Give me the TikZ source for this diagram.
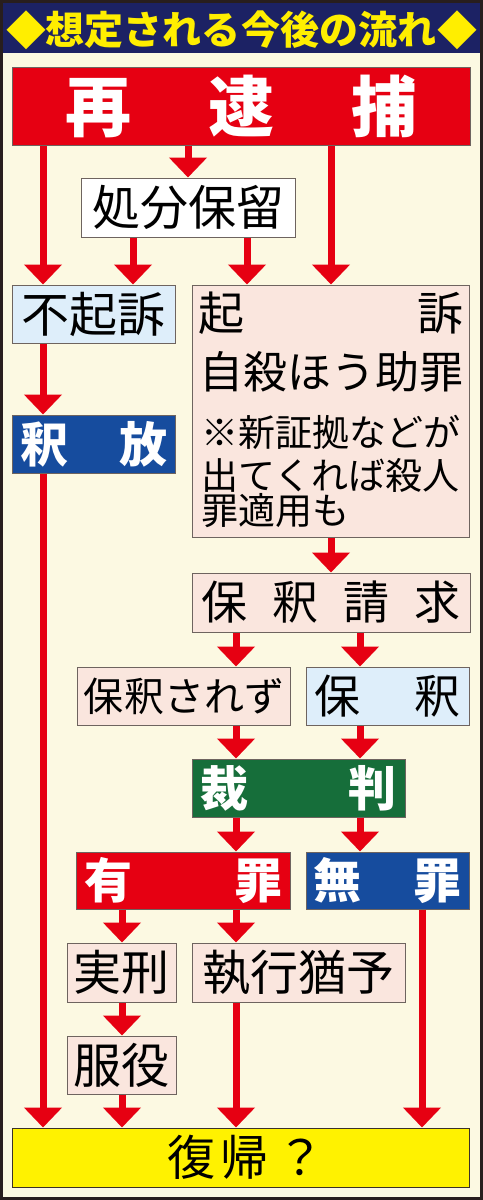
\documentclass[tikz,border=0pt]{standalone}
\usepackage{fontspec}
\setmainfont{Noto Sans CJK JP}
\usetikzlibrary{arrows.meta}
\definecolor{cream}{RGB}{252,249,226}
\definecolor{navy}{RGB}{28,34,100}
\definecolor{titleyellow}{RGB}{255,238,0}
\definecolor{arrred}{RGB}{230,0,18}
\definecolor{boxblue}{RGB}{22,76,158}
\definecolor{boxgreen}{RGB}{22,110,58}
\definecolor{lblue}{RGB}{222,238,250}
\definecolor{lpink}{RGB}{250,230,222}
\definecolor{yel}{RGB}{255,242,0}
\definecolor{edge}{RGB}{110,100,95}
\newcommand{\fs}[1]{\fontsize{#1bp}{#1bp}\selectfont}
\tikzset{
  box/.style={rectangle, draw=edge, line width=1bp, inner sep=0pt, font=\fs{48}},
  pinkbox/.style={box, fill=lpink},
  lbluebox/.style={box, fill=lblue},
  darkbox/.style={box, text=white, font=\bfseries\fs{48}},
  redbox/.style={darkbox, fill=arrred},
  bluebox/.style={darkbox, fill=boxblue},
  greenbox/.style={darkbox, fill=boxgreen},
  arr/.style={draw=arrred, line width=7bp, -{Triangle[width=37bp,length=20bp]}},
  txt/.style={inner sep=0pt},
  titletxt/.style={txt, text=titleyellow, font=\bfseries\fs{39}}
}
\begin{document}
\begin{tikzpicture}[x=1bp,y=-1bp]
\useasboundingbox (0,0) rectangle (483,1200);
% frame and title band
\fill[cream] (0,0) rectangle (483,1200);
\fill[navy] (0,0) rectangle (483,53);
\draw[line width=3bp, draw={rgb,255:red,40;green,30;blue,30}] (1.5,1.5) rectangle (481.5,1198.5);
\node[titletxt] (title) at (241,30) {想定される今後の流れ};
\node[titletxt, font=\fs{40}] (diaL) at (26,30) {◆};
\node[titletxt, font=\fs{40}] (diaR) at (457,30) {◆};
% columns
\coordinate (c1) at (43,0);
\coordinate (c2) at (122,0);
\coordinate (c3) at (133,0);
\coordinate (c4) at (188,0);
\coordinate (c5) at (236,0);
\coordinate (c6) at (247,0);
\coordinate (c7) at (331,0);
\coordinate (c8) at (360,0);
\coordinate (c9) at (422,0);
% boxes
\node[redbox, minimum width=457bp, minimum height=78bp, font=\bfseries\fs{66}] (saitaiho) at (241.5,106) {\makebox[352bp]{再\hfill 逮\hfill 捕}};
\node[box, fill=white, minimum width=213bp, minimum height=59bp] (shobun) at (188.5,207.5) {処分保留};
\node[lbluebox, minimum width=162bp, minimum height=58bp] (fukiso) at (94,314) {不起訴};
\node[bluebox, minimum width=162bp, minimum height=58bp] (shakuho) at (94,444) {\makebox[147bp]{釈\hfill 放}};
\node[pinkbox, minimum width=277bp, minimum height=252bp] (kiso) at (330.5,411) {};
\node[txt, font=\fs{46}] (kisoA) at (330.5,313) {\makebox[265bp]{起\hfill 訴}};
\node[txt, font=\fs{44}] (kisoB) at (331.5,372) {自殺ほう助罪};
\node[txt, font=\fs{37}, anchor=west] (noteA) at (201,432) {※新証拠などが};
\node[txt, font=\fs{37}, anchor=west] (noteB) at (201,475) {出てくれば殺人};
\node[txt, font=\fs{37}, anchor=west] (noteC) at (201,511) {罪適用も};
\node[pinkbox, minimum width=278bp, minimum height=59bp, font=\fs{46}] (seikyu) at (331,602.5) {\makebox[260bp]{保\hfill 釈\hfill 請\hfill 求}};
\node[pinkbox, minimum width=213bp, minimum height=58bp, font=\fs{40}] (sarezu) at (184,696) {保釈されず};
\node[lbluebox, minimum width=163bp, minimum height=58bp, font=\fs{46}] (hoshaku) at (387.5,696) {\makebox[147bp]{保\hfill 釈}};
\node[greenbox, minimum width=213bp, minimum height=58bp] (saiban) at (298.5,788) {\makebox[197bp]{裁\hfill 判}};
\node[redbox, minimum width=213bp, minimum height=57bp] (yuzai) at (183.5,880.5) {\makebox[198bp]{有\hfill 罪}};
\node[bluebox, minimum width=163bp, minimum height=57bp] (muzai) at (387.5,880.5) {\makebox[149bp]{無\hfill 罪}};
\node[pinkbox, minimum width=109bp, minimum height=59bp] (jikkei) at (121.5,972.5) {実刑};
\node[pinkbox, minimum width=213bp, minimum height=59bp] (shikko) at (298.5,972.5) {執行猶予};
\node[pinkbox, minimum width=109bp, minimum height=58bp] (fukueki) at (121.5,1065) {服役};
\node[box, fill=yel, draw={rgb,255:red,60;green,50;blue,40}, minimum width=456bp, minimum height=59bp, font=\fs{48}] (fukki) at (241,1157.5) {\hspace{10bp}復\hspace{6bp}帰\hspace{8bp}？};
% arrows
\draw[arr] (saitaiho.south -| c1) -- (fukiso.north -| c1);
\draw[arr] (fukiso.south -| c1) -- (shakuho.north -| c1);
\draw[arr] (shakuho.south -| c1) -- (fukki.north -| c1);
\draw[arr] (saitaiho.south -| c4) -- (shobun.north -| c4);
\draw[arr] (shobun.south -| c3) -- (fukiso.north -| c3);
\draw[arr] (shobun.south -| c6) -- (kiso.north -| c6);
\draw[arr] (saitaiho.south -| c7) -- (kiso.north -| c7);
\draw[arr] (kiso.south -| c7) -- (seikyu.north -| c7);
\draw[arr] (seikyu.south -| c5) -- (sarezu.north -| c5);
\draw[arr] (seikyu.south -| c8) -- (hoshaku.north -| c8);
\draw[arr] (sarezu.south -| c5) -- (saiban.north -| c5);
\draw[arr] (hoshaku.south -| c8) -- (saiban.north -| c8);
\draw[arr] (saiban.south -| c5) -- (yuzai.north -| c5);
\draw[arr] (saiban.south -| c8) -- (muzai.north -| c8);
\draw[arr] (yuzai.south -| c2) -- (jikkei.north -| c2);
\draw[arr] (yuzai.south -| c5) -- (shikko.north -| c5);
\draw[arr] (jikkei.south -| c2) -- (fukueki.north -| c2);
\draw[arr] (fukueki.south -| c2) -- (fukki.north -| c2);
\draw[arr] (shikko.south -| c5) -- (fukki.north -| c5);
\draw[arr] (muzai.south -| c9) -- (fukki.north -| c9);
\end{tikzpicture}
\end{document}
